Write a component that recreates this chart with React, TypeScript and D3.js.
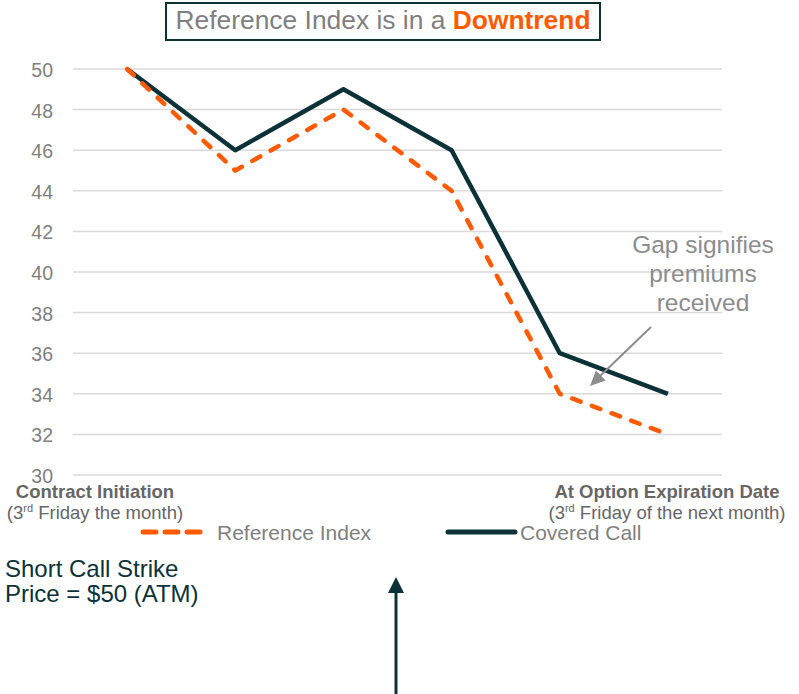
import * as d3 from "d3";

const periods = ["P0", "P1", "P2", "P3", "P4", "P5"];
const referenceIndex = [50, 45, 48, 44, 34, 32];
const coveredCall = [50, 46, 49, 46, 36, 34];
const yTicks = [30, 32, 34, 36, 38, 40, 42, 44, 46, 48, 50];

const W = 799;
const H = 694;
const ORANGE = "#ff5a00";
const TEAL = "#0c3238";
const GRAY = "#7f7f7f";
const FONT = "'Liberation Sans', Arial, sans-serif";

// arrow with a filled triangular head, tip at (x2, y2)
function arrowHead(x1: number, y1: number, x2: number, y2: number, len: number, half: number) {
  const a = Math.atan2(y2 - y1, x2 - x1);
  const bx = x2 - len * Math.cos(a);
  const by = y2 - len * Math.sin(a);
  const px = -Math.sin(a) * half;
  const py = Math.cos(a) * half;
  return `M${x2},${y2}L${bx + px},${by + py}L${bx - px},${by - py}Z`;
}

export default function App() {
  const x = d3.scalePoint().domain(periods).range([73, 722]).padding(0.5);
  const y = d3.scaleLinear().domain([30, 50]).range([475, 69]);

  const line = d3
    .line<number>()
    .x((d, i) => x(periods[i]) as number)
    .y((d) => y(d));

  return (
    <svg
      width={W}
      height={H}
      style={{ position: "absolute", left: 0, top: 0, fontFamily: FONT }}
    >
      {/* title box */}
      <rect x={166} y={3} width={434} height={37} fill="white" stroke={TEAL} strokeWidth={2} />
      <text x={383} y={29} textAnchor="middle" fontSize={26.4} fill={GRAY}>
        Reference Index is in a{" "}
        <tspan fill={ORANGE} fontWeight="bold">Downtrend</tspan>
      </text>

      {/* grid + y ticks */}
      {yTicks.map((t) => (
        <g key={t}>
          <line x1={73} x2={722} y1={y(t)} y2={y(t)} stroke="#d9d9d9" strokeWidth={1.5} />
          <text x={53} y={y(t) + 8} textAnchor="end" fontSize={19.5} fill={GRAY}>
            {t}
          </text>
        </g>
      ))}

      {/* series */}
      <path d={line(coveredCall) || ""} fill="none" stroke={TEAL} strokeWidth={4.5} strokeLinejoin="round" />
      <path
        d={line(referenceIndex) || ""}
        fill="none"
        stroke={ORANGE}
        strokeWidth={4.5}
        strokeDasharray="9 12"
        strokeLinecap="round"
        strokeLinejoin="round"
      />

      {/* x labels */}
      <text x={95} y={498} textAnchor="middle" fontSize={18.5} fontWeight="bold" fill="#666">
        Contract Initiation
      </text>
      <text x={95} y={519} textAnchor="middle" fontSize={18.5} fill="#666">
        (3<tspan fontSize={11} dy={-7}>rd</tspan>
        <tspan dy={7}> Friday the month)</tspan>
      </text>
      <text x={667} y={498} textAnchor="middle" fontSize={18.5} fontWeight="bold" fill="#666">
        At Option Expiration Date
      </text>
      <text x={667} y={519} textAnchor="middle" fontSize={18.5} fill="#666">
        (3<tspan fontSize={11} dy={-7}>rd</tspan>
        <tspan dy={7}> Friday of the next month)</tspan>
      </text>

      {/* legend */}
      <line
        x1={143}
        x2={201}
        y1={532}
        y2={532}
        stroke={ORANGE}
        strokeWidth={5}
        strokeDasharray="13 9"
        strokeLinecap="round"
      />
      <text x={217} y={540} fontSize={21} fill={GRAY}>
        Reference Index
      </text>
      <line x1={448} x2={515} y1={532} y2={532} stroke={TEAL} strokeWidth={5} strokeLinecap="round" />
      <text x={520} y={540} fontSize={21} fill={GRAY}>
        Covered Call
      </text>

      {/* annotation */}
      <text x={703} y={253} textAnchor="middle" fontSize={24.5} fill="#8c8c8c">
        Gap signifies
      </text>
      <text x={703} y={282} textAnchor="middle" fontSize={24.5} fill="#8c8c8c">
        premiums
      </text>
      <text x={703} y={311} textAnchor="middle" fontSize={24.5} fill="#8c8c8c">
        received
      </text>
      <line x1={651} y1={327} x2={598} y2={378} stroke="#8c8c8c" strokeWidth={2} />
      <path d={arrowHead(651, 327, 590, 386, 15, 7)} fill="#8c8c8c" />

      {/* strike note */}
      <text x={5} y={577} fontSize={24} fill={TEAL}>
        Short Call Strike
      </text>
      <text x={5} y={602} fontSize={24} fill={TEAL}>
        Price = $50 (ATM)
      </text>
      <line x1={396} y1={694} x2={396} y2={588} stroke={TEAL} strokeWidth={3} />
      <path d={arrowHead(396, 694, 396, 577, 16, 8)} fill={TEAL} />
    </svg>
  );
}
